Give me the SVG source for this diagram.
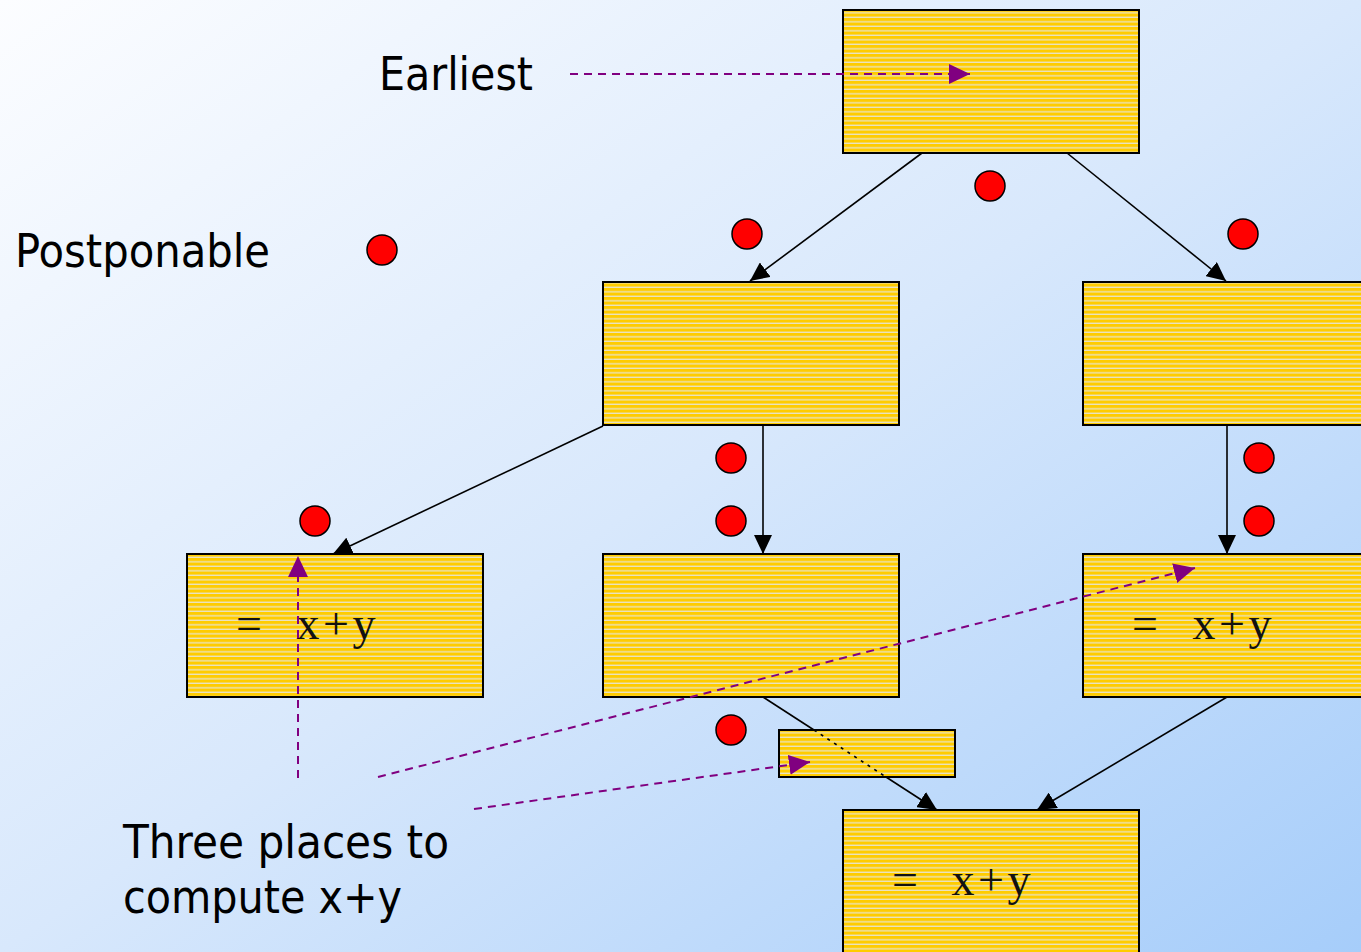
<svg xmlns="http://www.w3.org/2000/svg" width="1361" height="952" viewBox="0 0 1361 952">
<defs>
<linearGradient id="bg" x1="0" y1="0" x2="1" y2="1">
<stop offset="0" stop-color="#FCFDFF"/>
<stop offset="0.5" stop-color="#D8E8FC"/>
<stop offset="1" stop-color="#A6CDFA"/>
</linearGradient>
<pattern id="stripes" patternUnits="userSpaceOnUse" width="8" height="4.5">
<rect width="8" height="4.5" fill="#FFCC00"/>
<rect y="3.2" width="8" height="1.2" fill="#E6E6DC"/>
</pattern>
<marker id="ah" markerUnits="userSpaceOnUse" markerWidth="20" markerHeight="18" refX="19" refY="9" orient="auto">
<path d="M0,0 L19,9 L0,18 Z" fill="#000"/>
</marker>
<marker id="ph" markerUnits="userSpaceOnUse" markerWidth="22" markerHeight="20" refX="21" refY="10" orient="auto">
<path d="M0,0 L21,10 L0,20 Z" fill="#800080"/>
</marker>
</defs>
<style>
.box{fill:url(#stripes);stroke:#000;stroke-width:2}
.edge{stroke:#000;stroke-width:1.6;fill:none}
.dot{fill:#FF0000;stroke:#000;stroke-width:1.5}
.ptr{stroke:#800080;stroke-width:2;stroke-dasharray:8 6;fill:none}
.lbl{font-family:"DejaVu Sans Condensed","DejaVu Sans",sans-serif;font-size:46px;fill:#000}
.code{font-family:"Liberation Serif","Times New Roman",serif;font-size:46px;fill:#111;text-anchor:middle}
</style>
<rect width="1361" height="952" fill="url(#bg)"/>

<g id="connectors">
<line class="edge" x1="922" y1="153" x2="750" y2="281" marker-end="url(#ah)"/>
<line class="edge" x1="1067" y1="153" x2="1226" y2="281" marker-end="url(#ah)"/>
<line class="edge" x1="603" y1="426" x2="333" y2="554" marker-end="url(#ah)"/>
<line class="edge" x1="763" y1="426" x2="763" y2="554" marker-end="url(#ah)"/>
<line class="edge" x1="1227" y1="426" x2="1227" y2="554" marker-end="url(#ah)"/>
<line class="edge" x1="1227" y1="697" x2="1037" y2="810" marker-end="url(#ah)"/>
<line class="edge" x1="763" y1="697" x2="814" y2="730"/>
<line class="edge" x1="886" y1="777" x2="937" y2="810" marker-end="url(#ah)"/>
</g>

<g id="n_top"><rect class="box" x="843" y="10" width="296" height="143"/></g>
<g id="n_midleft"><rect class="box" x="603" y="282" width="296" height="143"/></g>
<g id="n_midright"><rect class="box" x="1083" y="282" width="290" height="143"/></g>
<g id="n_left"><rect class="box" x="187" y="554" width="296" height="143"/><text class="code" x="249 278 308 336 364" y="639">= x+y</text></g>
<g id="n_center"><rect class="box" x="603" y="554" width="296" height="143"/></g>
<g id="n_right"><rect class="box" x="1083" y="554" width="290" height="143"/><text class="code" x="1145 1174 1204 1232 1260" y="639">= x+y</text></g>
<g id="n_small"><rect class="box" x="779" y="730" width="176" height="47"/>
<line x1="814" y1="730" x2="886" y2="777" stroke="#000" stroke-width="1.6" stroke-dasharray="3 5"/></g>
<g id="n_bottom"><rect class="box" x="843" y="810" width="296" height="150"/><text class="code" x="905 934 963 991 1019" y="895">= x+y</text></g>

<g id="dots">
<circle class="dot" cx="990" cy="186" r="15"/>
<circle class="dot" cx="747" cy="234" r="15"/>
<circle class="dot" cx="1243" cy="234" r="15"/>
<circle class="dot" cx="382" cy="250" r="15"/>
<circle class="dot" cx="731" cy="458" r="15"/>
<circle class="dot" cx="731" cy="521" r="15"/>
<circle class="dot" cx="1259" cy="458" r="15"/>
<circle class="dot" cx="1259" cy="521" r="15"/>
<circle class="dot" cx="315" cy="521" r="15"/>
<circle class="dot" cx="731" cy="730" r="15"/>
</g>

<g id="pointers">
<line class="ptr" x1="570" y1="74" x2="970" y2="74" marker-end="url(#ph)"/>
<line class="ptr" x1="298" y1="778" x2="298" y2="556" marker-end="url(#ph)"/>
<line class="ptr" x1="378" y1="777" x2="1195" y2="568" marker-end="url(#ph)"/>
<line class="ptr" x1="474" y1="809" x2="810" y2="762" marker-end="url(#ph)"/>
</g>

<g id="labels">
<text class="lbl" x="379" y="90" textLength="154" lengthAdjust="spacingAndGlyphs">Earliest</text>
<text class="lbl" x="15" y="267" textLength="255" lengthAdjust="spacingAndGlyphs">Postponable</text>
<text class="lbl" x="123" y="858" textLength="326" lengthAdjust="spacingAndGlyphs">Three places to</text>
<text class="lbl" x="123" y="913" textLength="279" lengthAdjust="spacingAndGlyphs">compute x+y</text>
</g>
</svg>
